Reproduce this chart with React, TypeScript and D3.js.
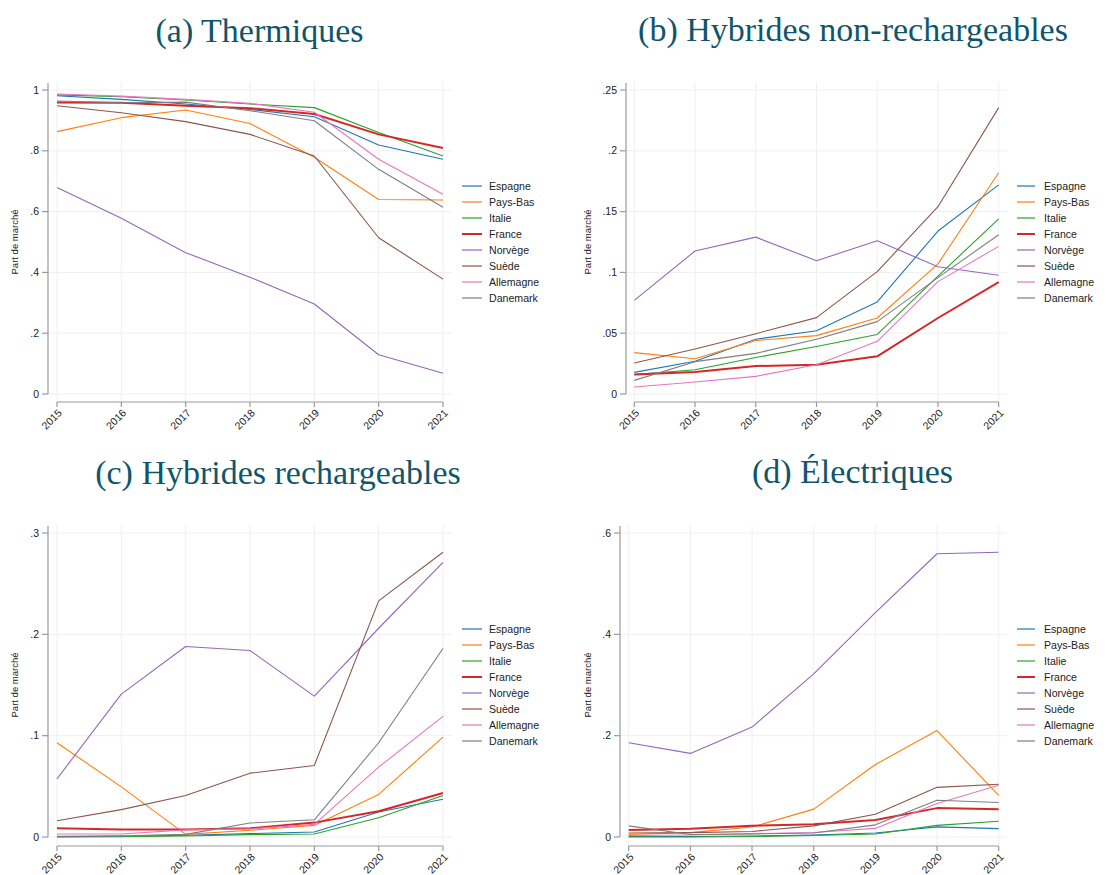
import React from "react";
import * as d3 from "d3";

const years = [2015, 2016, 2017, 2018, 2019, 2020, 2021];
const countries = ["Espagne", "Pays-Bas", "Italie", "France", "Norvège", "Suède", "Allemagne", "Danemark"];
const colors = ["#1f77b4", "#ff7f0e", "#2ca02c", "#d62728", "#9467bd", "#8c564b", "#e377c2", "#7f7f7f"];

// (a) Thermiques — one row per country, same order as `countries`
const thermiques: number[][] = [
  [0.981, 0.969, 0.954, 0.936, 0.912, 0.819, 0.772],
  [0.863, 0.909, 0.934, 0.890, 0.779, 0.640, 0.638],
  [0.984, 0.978, 0.967, 0.954, 0.942, 0.860, 0.783],
  [0.959, 0.958, 0.948, 0.940, 0.921, 0.854, 0.809],
  [0.679, 0.578, 0.465, 0.384, 0.296, 0.129, 0.068],
  [0.948, 0.925, 0.896, 0.854, 0.783, 0.514, 0.378],
  [0.987, 0.980, 0.969, 0.956, 0.927, 0.772, 0.657],
  [0.964, 0.958, 0.960, 0.932, 0.899, 0.739, 0.614],
];

// (b) Hybrides non-rechargeables
const hybridesNR: number[][] = [
  [0.0178, 0.027, 0.045, 0.052, 0.0757, 0.134, 0.172],
  [0.034, 0.029, 0.044, 0.048, 0.0625, 0.107, 0.182],
  [0.016, 0.020, 0.030, 0.039, 0.049, 0.097, 0.144],
  [0.016, 0.018, 0.023, 0.024, 0.031, 0.0625, 0.092],
  [0.077, 0.1176, 0.129, 0.1096, 0.126, 0.1047, 0.0976],
  [0.0255, 0.037, 0.0496, 0.0628, 0.1006, 0.154, 0.2355],
  [0.0058, 0.0099, 0.0145, 0.024, 0.0433, 0.0924, 0.1214],
  [0.0112, 0.0266, 0.0334, 0.045, 0.0595, 0.0957, 0.131],
];

// (c) Hybrides rechargeables
const hybridesR: number[][] = [
  [0.0003, 0.0007, 0.0017, 0.0033, 0.005, 0.0247, 0.0373],
  [0.093, 0.0495, 0.0026, 0.0066, 0.0115, 0.042, 0.0986],
  [0.0, 0.0003, 0.001, 0.0023, 0.003, 0.019, 0.041],
  [0.0086, 0.0073, 0.0073, 0.0086, 0.0142, 0.0254, 0.0435],
  [0.0574, 0.141, 0.188, 0.184, 0.139, 0.206, 0.271],
  [0.016, 0.027, 0.041, 0.063, 0.0706, 0.233, 0.281],
  [0.003, 0.003, 0.007, 0.008, 0.0125, 0.069, 0.119],
  [0.0007, 0.0013, 0.0026, 0.0138, 0.017, 0.093, 0.186],
];

// (d) Électriques
const electriques: number[][] = [
  [0.001, 0.001, 0.002, 0.004, 0.008, 0.020, 0.0165],
  [0.005, 0.0086, 0.0198, 0.055, 0.143, 0.210, 0.082],
  [0.0, 0.0, 0.001, 0.003, 0.006, 0.023, 0.031],
  [0.0138, 0.0165, 0.022, 0.025, 0.0336, 0.057, 0.055],
  [0.186, 0.165, 0.217, 0.322, 0.443, 0.559, 0.562],
  [0.008, 0.0086, 0.011, 0.022, 0.045, 0.098, 0.104],
  [0.003, 0.004, 0.0066, 0.009, 0.017, 0.066, 0.102],
  [0.022, 0.005, 0.006, 0.008, 0.024, 0.0725, 0.068],
];

const ticksA = [0, 0.2, 0.4, 0.6, 0.8, 1];
const ticksB = [0, 0.05, 0.1, 0.15, 0.2, 0.25];
const ticksC = [0, 0.1, 0.2, 0.3];
const ticksD = [0, 0.2, 0.4, 0.6];

const yTitle = "Part de marché";
const TITLE_COLOR = "#0f566b";
const AXIS_COLOR = "#9a9a9a";
const GRID_COLOR = "#efefef";
const SANS = "'Liberation Sans', Arial, sans-serif";

const fmt = (v: number) => {
  if (v === 0) return "0";
  if (v === 1) return "1";
  return d3.format(".2~f")(v).replace(/^0\./, ".");
};

type PanelProps = {
  title: string;
  titleX: number;
  titleY: number;
  data: number[][];
  ticks: number[];
  axisX: number;
  x0: number;
  x1: number;
  gridRight: number;
  top: number;
  yTopTick: number;
  yZero: number;
  xAxisY: number;
  yTitleX: number;
  legendX: number;
  legendLineLen: number;
  legendY: number;
};

function Panel(p: PanelProps) {
  const x = d3.scaleLinear().domain([years[0], years[years.length - 1]]).range([p.x0, p.x1]);
  const y = d3.scaleLinear().domain([0, p.ticks[p.ticks.length - 1]]).range([p.yZero, p.yTopTick]);
  const line = d3
    .line<number>()
    .x((_, i) => x(years[i]))
    .y((v) => y(v));
  return (
    <g>
      <text
        x={p.titleX}
        y={p.titleY}
        textAnchor="middle"
        fontFamily="'Liberation Serif', 'Times New Roman', serif"
        fontSize={34}
        fill={TITLE_COLOR}
      >
        {p.title}
      </text>
      {/* grid */}
      {p.ticks.map((t) => (
        <line key={"hg" + t} x1={p.axisX} x2={p.gridRight} y1={y(t)} y2={y(t)} stroke={GRID_COLOR} strokeWidth={1} />
      ))}
      {years.map((yr) => (
        <line key={"vg" + yr} x1={x(yr)} x2={x(yr)} y1={p.top} y2={p.xAxisY} stroke={GRID_COLOR} strokeWidth={1} />
      ))}
      {/* y axis */}
      <line x1={p.axisX} x2={p.axisX} y1={p.top + 1} y2={p.yZero} stroke={AXIS_COLOR} strokeWidth={1.2} />
      {p.ticks.map((t) => (
        <g key={"yt" + t}>
          <line x1={p.axisX - 6} x2={p.axisX} y1={y(t)} y2={y(t)} stroke={AXIS_COLOR} strokeWidth={1.2} />
          <text x={p.axisX - 9} y={y(t)} dy="0.35em" textAnchor="end" fontFamily={SANS} fontSize={10.5} fill="#222">
            {fmt(t)}
          </text>
        </g>
      ))}
      <text
        transform={`translate(${p.yTitleX},${(p.yTopTick + p.yZero) / 2}) rotate(-90)`}
        textAnchor="middle"
        dy="0.35em"
        fontFamily={SANS}
        fontSize={9.5}
        fill="#222"
      >
        {yTitle}
      </text>
      {/* x axis */}
      <line x1={p.x0} x2={p.x1} y1={p.xAxisY} y2={p.xAxisY} stroke={AXIS_COLOR} strokeWidth={1.2} />
      {years.map((yr) => (
        <g key={"xt" + yr}>
          <line x1={x(yr)} x2={x(yr)} y1={p.xAxisY} y2={p.xAxisY + 5} stroke={AXIS_COLOR} strokeWidth={1.2} />
          <text
            transform={`translate(${x(yr) + 3},${p.xAxisY + 9}) rotate(-45)`}
            textAnchor="end"
            dy="0.35em"
            fontFamily={SANS}
            fontSize={10.5}
            fill="#222"
          >
            {yr}
          </text>
        </g>
      ))}
      {/* series */}
      {p.data.map((vals, i) => (
        <path
          key={"s" + i}
          d={line(vals) || ""}
          fill="none"
          stroke={colors[i]}
          strokeWidth={countries[i] === "France" ? 2 : 1.1}
          strokeLinejoin="round"
        />
      ))}
      {/* legend */}
      {countries.map((c, i) => (
        <g key={"lg" + c}>
          <line
            x1={p.legendX}
            x2={p.legendX + p.legendLineLen}
            y1={p.legendY + i * 16}
            y2={p.legendY + i * 16}
            stroke={colors[i]}
            strokeWidth={c === "France" ? 2 : 1.2}
          />
          <text
            x={p.legendX + 27}
            y={p.legendY + i * 16}
            dy="0.35em"
            fontFamily={SANS}
            fontSize={10.6}
            fill="#222"
          >
            {c}
          </text>
        </g>
      ))}
    </g>
  );
}

export default function App() {
  return (
    <svg
      width={1116}
      height={875}
      style={{ position: "absolute", left: 0, top: 0, background: "#fff" }}
    >
      <rect x={0} y={0} width={1116} height={875} fill="#fff" />
      <Panel
        title="(a) Thermiques"
        titleX={259.5}
        titleY={42}
        data={thermiques}
        ticks={ticksA}
        axisX={48}
        x0={57}
        x1={443}
        gridRight={452}
        top={82}
        yTopTick={90}
        yZero={394}
        xAxisY={402}
        yTitleX={15}
        legendX={462}
        legendLineLen={20}
        legendY={186}
      />
      <Panel
        title="(b) Hybrides non-rechargeables"
        titleX={853}
        titleY={41}
        data={hybridesNR}
        ticks={ticksB}
        axisX={626}
        x0={634.3}
        x1={998.7}
        gridRight={1007}
        top={82}
        yTopTick={90}
        yZero={394}
        xAxisY={402}
        yTitleX={588}
        legendX={1017}
        legendLineLen={18}
        legendY={186}
      />
      <Panel
        title="(c) Hybrides rechargeables"
        titleX={278}
        titleY={484}
        data={hybridesR}
        ticks={ticksC}
        axisX={48}
        x0={57}
        x1={443}
        gridRight={452}
        top={525}
        yTopTick={533}
        yZero={837}
        xAxisY={846}
        yTitleX={15}
        legendX={462}
        legendLineLen={20}
        legendY={629}
      />
      <Panel
        title="(d) Électriques"
        titleX={852.5}
        titleY={483}
        data={electriques}
        ticks={ticksD}
        axisX={620}
        x0={628.7}
        x1={998.7}
        gridRight={1007}
        top={525}
        yTopTick={533}
        yZero={837}
        xAxisY={846}
        yTitleX={588}
        legendX={1017}
        legendLineLen={18}
        legendY={629}
      />
    </svg>
  );
}
